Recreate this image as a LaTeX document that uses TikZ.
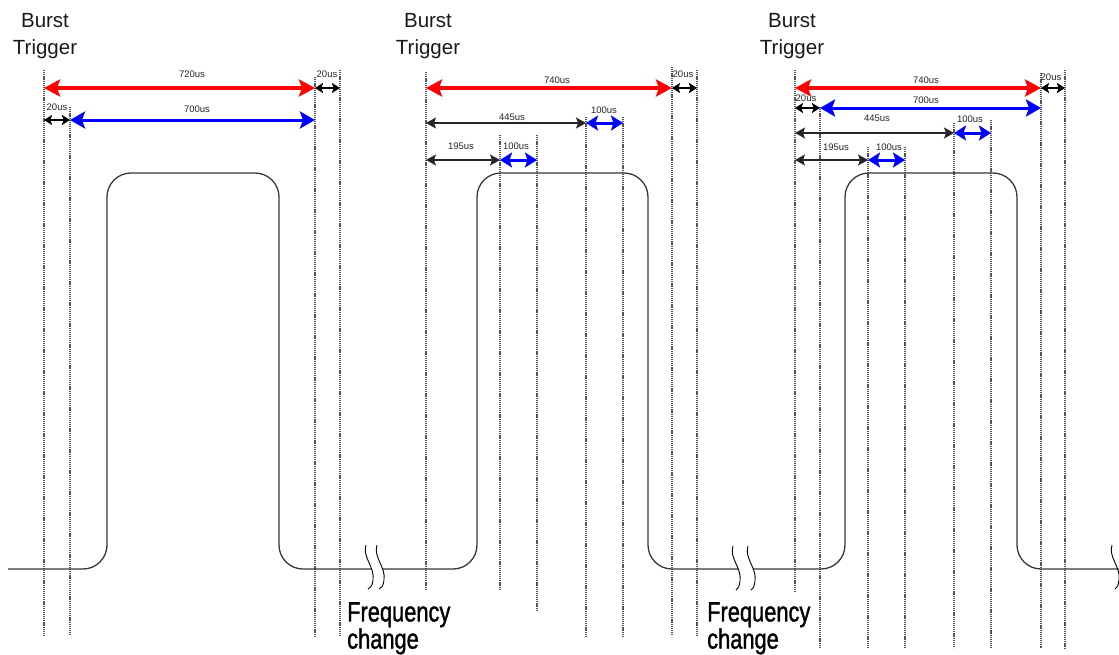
\documentclass[tikz,border=0pt]{standalone}
\usepackage{fontspec}
\setmainfont{Liberation Sans}
\newfontfamily\narrowfont[FakeStretch=0.78,FakeBold=1.2]{Liberation Sans}
\usetikzlibrary{arrows.meta}
\definecolor{pulsegray}{RGB}{55,55,55}
\definecolor{guidegray}{RGB}{85,85,85}
\tikzstyle{guide}=[guidegray, line width=1.1pt, dash pattern=on 1.2pt off 0.9pt]
\tikzstyle{signal}=[pulsegray, line width=1.3pt, rounded corners=24pt]
\tikzstyle{breakmark}=[black, line width=0.9pt]
\tikzstyle{dimred}=[red, line width=3.5pt, {Stealth[length=16pt,width=17pt,inset=3pt]}-{Stealth[length=16pt,width=17pt,inset=3pt]}]
\tikzstyle{dimblue}=[blue, line width=3pt, {Stealth[length=15pt,width=17pt,inset=3pt]}-{Stealth[length=15pt,width=17pt,inset=3pt]}]
\tikzstyle{dimblueshort}=[blue, line width=3pt, {Stealth[length=12pt,width=15pt,inset=2.5pt]}-{Stealth[length=12pt,width=15pt,inset=2.5pt]}]
\tikzstyle{dimblack}=[black!85, line width=1.3pt, {Stealth[length=10pt,width=11pt,inset=2pt]}-{Stealth[length=10pt,width=11pt,inset=2pt]}]
\tikzstyle{dimtiny}=[black, line width=1.6pt, {Stealth[length=8pt,width=10pt,inset=1.5pt]}-{Stealth[length=8pt,width=10pt,inset=1.5pt]}]
\tikzstyle{dimlabel}=[black!85, font=\fontsize{9.5}{11}\selectfont, inner sep=0pt]
\tikzstyle{trigger}=[black!90, font=\fontsize{20.5}{27}\selectfont, align=center, anchor=north, inner sep=0pt]
\tikzstyle{freq}=[font=\narrowfont\fontsize{28}{26}\selectfont, align=left, anchor=north west, inner sep=0pt]

\begin{document}
\begin{tikzpicture}[x=1pt, y=-1pt]
		   \useasboundingbox (0,0) rectangle (1119,654);
		   \begin{scope}
			   \node (trig1) at (45,13.3) [trigger] {Burst\\Trigger};
			   \node (trig2) at (428,13.3) [trigger] {Burst\\Trigger};
			   \node (trig3) at (792,13.3) [trigger] {Burst\\Trigger};

			   \node (freq1) at (347,602) [freq] {Frequency\\change};
			   \node (freq2) at (707,602) [freq] {Frequency\\change};

			   \draw [guide] (44,70) -- (44,636);
			   \draw [guide] (70,107) -- (70,636);
			   \draw [guide] (315,77) -- (315,636);
			   \draw [guide] (340,70) -- (340,636);

			   \draw [guide] (426,72) -- (426,589);
			   \draw [guide] (500,135) -- (500,589);
			   \draw [guide] (537,135) -- (537,610);
			   \draw [guide] (586,117) -- (586,636);
			   \draw [guide] (623,117) -- (623,636);
			   \draw [guide] (672,67) -- (672,636);
			   \draw [guide] (697,70) -- (697,636);

			   \draw [guide] (795,70) -- (795,591);
			   \draw [guide] (820,107) -- (820,648);
			   \draw [guide] (868,147) -- (868,648);
			   \draw [guide] (905,147) -- (905,648);
			   \draw [guide] (954,123) -- (954,648);
			   \draw [guide] (991,120) -- (991,648);
			   \draw [guide] (1041,73) -- (1041,648);
			   \draw [guide] (1065,70) -- (1065,648);

			   \draw [signal] (8,569) -- (107,569) -- (107,173) -- (279,173) -- (279,569) -- (371,569);
			   \draw [signal] (382,569) -- (477,569) -- (477,173) -- (648,173) -- (648,569) -- (738,569);
			   \draw [signal] (753,569) -- (845,569) -- (845,173) -- (1017,173) -- (1017,569) -- (1119,569);

			   \draw [breakmark] (366,545) .. controls (362,557) and (375,567) .. (373,580) .. controls (372,586) .. (368,589);
			   \draw [breakmark] (377,545) .. controls (373,557) and (386,567) .. (384,580) .. controls (383,586) .. (379,589);
			   \draw [breakmark] (733,546) .. controls (729,558) and (742,568) .. (740,581) .. controls (739,587) .. (736,590);
			   \draw [breakmark] (748,546) .. controls (744,558) and (757,568) .. (755,581) .. controls (754,587) .. (751,590);
			   \draw [breakmark] (1112,545) .. controls (1108,557) and (1121,567) .. (1119,580) .. controls (1118,586) .. (1115,589);

			   \coordinate (a1) at (44,88);
			   \coordinate (a2) at (315,88);
			   \coordinate (a3) at (340,88);
			   \coordinate (a4) at (44,120);
			   \coordinate (a5) at (70,120);
			   \coordinate (a6) at (315,120);

			   \coordinate (b1) at (426,88);
			   \coordinate (b2) at (672,88);
			   \coordinate (b3) at (697,88);
			   \coordinate (b4) at (426,123);
			   \coordinate (b5) at (586,123);
			   \coordinate (b6) at (623,123);
			   \coordinate (b7) at (426,160);
			   \coordinate (b8) at (500,160);
			   \coordinate (b9) at (537,160);

			   \coordinate (c1) at (795,88);
			   \coordinate (c2) at (1041,88);
			   \coordinate (c3) at (1065,88);
			   \coordinate (c4) at (795,108);
			   \coordinate (c5) at (820,108);
			   \coordinate (c6) at (1041,108);
			   \coordinate (c7) at (795,133);
			   \coordinate (c8) at (954,133);
			   \coordinate (c9) at (991,133);
			   \coordinate (c10) at (795,160);
			   \coordinate (c11) at (868,160);
			   \coordinate (c12) at (905,160);

			   \node (la1) at (192,74) [dimlabel] {720us};
			   \node (la2) at (327,74) [dimlabel] {20us};
			   \node (la3) at (57,107) [dimlabel] {20us};
			   \node (la4) at (197,109) [dimlabel] {700us};

			   \node (lb1) at (557,80) [dimlabel] {740us};
			   \node (lb2) at (683,74) [dimlabel] {20us};
			   \node (lb3) at (512,117) [dimlabel] {445us};
			   \node (lb4) at (604,110) [dimlabel] {100us};
			   \node (lb5) at (461,146) [dimlabel] {195us};
			   \node (lb6) at (516,146) [dimlabel] {100us};

			   \node (lc1) at (926,80) [dimlabel] {740us};
			   \node (lc2) at (1051,77) [dimlabel] {20us};
			   \node (lc3) at (806,98) [dimlabel] {20us};
			   \node (lc4) at (926,100) [dimlabel] {700us};
			   \node (lc5) at (877,118) [dimlabel] {445us};
			   \node (lc6) at (970,119) [dimlabel] {100us};
			   \node (lc7) at (836,147) [dimlabel] {195us};
			   \node (lc8) at (889,147) [dimlabel] {100us};
		   \end{scope}
		   \begin{scope}
			   \path [dimred] (a1) edge (a2);
			   \path [dimtiny] (a2) edge (a3);
			   \path [dimtiny] (a4) edge (a5);
			   \path [dimblue] (a5) edge (a6);

			   \path [dimred] (b1) edge (b2);
			   \path [dimtiny] (b2) edge (b3);
			   \path [dimblack] (b4) edge (b5);
			   \path [dimblueshort] (b5) edge (b6);
			   \path [dimblack] (b7) edge (b8);
			   \path [dimblueshort] (b8) edge (b9);

			   \path [dimred] (c1) edge (c2);
			   \path [dimtiny] (c2) edge (c3);
			   \path [dimtiny] (c4) edge (c5);
			   \path [dimblue] (c5) edge (c6);
			   \path [dimblack] (c7) edge (c8);
			   \path [dimblueshort] (c8) edge (c9);
			   \path [dimblack] (c10) edge (c11);
			   \path [dimblueshort] (c11) edge (c12);
		   \end{scope}
	   \end{tikzpicture}
\end{document}
